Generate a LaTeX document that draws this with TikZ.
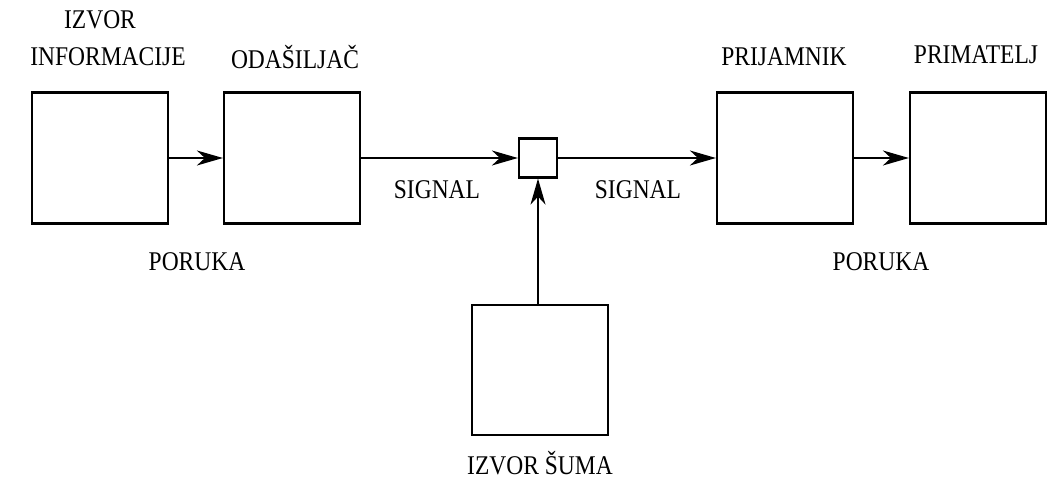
\documentclass[tikz,border=0pt]{standalone}
\usepackage{fontspec}
\setmainfont{Liberation Serif}
\usetikzlibrary{arrows.meta}
\newcommand{\tallt}[1]{\scalebox{1}[1.15]{#1}}
\begin{document}
\begin{tikzpicture}[x=1pt,y=-1pt,
  blk/.style={draw,line width=2.2pt,minimum width=136pt,minimum height=131pt,inner sep=0pt},
  sml/.style={draw,line width=2.2pt,minimum width=38pt,minimum height=39pt,inner sep=0pt},
  conn/.style={line width=1.8pt,-{Stealth[length=26pt,width=15pt,inset=8pt]}},
  lbl/.style={font=\fontsize{23.5}{27}\selectfont,inner sep=0pt,align=center}]
\useasboundingbox (0,0) rectangle (1053,481);
\node[blk] (src) at (100,158) {};
\node[blk] (tx) at (292,158) {};
\node[sml] (sum) at (538,158) {};
\node[blk] (rx) at (785,158) {};
\node[blk] (dst) at (978,158) {};
\node[blk,minimum height=130pt] (noise) at (540,370) {};
\draw[conn] (src) -- (tx);
\draw[conn] (tx) -- (sum);
\draw[conn] (sum) -- (rx);
\draw[conn] (rx) -- (dst);
\draw[conn] (noise.north -| sum) -- (sum);
\node[lbl] (t1) at (100,20) {\tallt{IZVOR}};
\node[lbl] (t2) at (108,57) {\tallt{INFORMACIJE}};
\node[lbl] (t3) at (295,57) {\tallt{ODAŠILJAČ}};
\node[lbl] (t4) at (784,57) {\tallt{PRIJAMNIK}};
\node[lbl] (t5) at (976,55) {\tallt{PRIMATELJ}};
\node[lbl] (s1) at (437,190) {\tallt{SIGNAL}};
\node[lbl] (s2) at (638,190) {\tallt{SIGNAL}};
\node[lbl] (p1) at (197,262) {\tallt{PORUKA}};
\node[lbl] (p2) at (881,262) {\tallt{PORUKA}};
\node[lbl] (n1) at (540,463) {\tallt{IZVOR ŠUMA}};
\end{tikzpicture}
\end{document}
